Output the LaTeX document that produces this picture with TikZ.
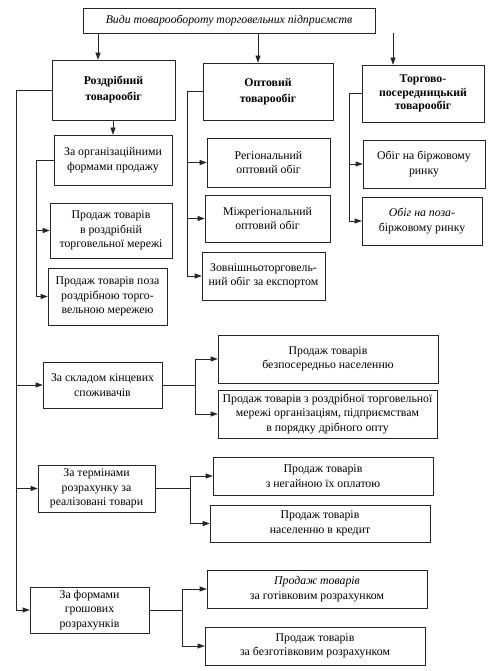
\documentclass[tikz,border=0pt]{standalone}
\usepackage{fontspec}
\setmainfont{Liberation Serif}
\usetikzlibrary{arrows.meta}

\begin{document}
\begin{tikzpicture}[x=1pt, y=-1pt, line width=0.6pt, draw=black!85, >={Triangle[length=7pt,width=5pt]},
  main node/.style={draw, align=center, inner sep=1pt, font=\fontsize{11.8}{14.5}\selectfont},
  head node/.style={main node, font=\fontsize{11.8}{16}\selectfont\bfseries},
  sized/.style 2 args={minimum width=#1pt, minimum height=#2pt}]
\useasboundingbox (0,0) rectangle (491,671);
\node[main node, sized={292}{25}] (top) at (229,20.5) {\itshape Види товарообороту торговельних підприємств};
\node[head node, sized={123}{60}] (r1) at (113.5,90) {Роздрібний\\товарообіг};
\node[head node, sized={130}{57}] (r2) at (268,91.5) {Оптовий\\товарообіг};
\node[head node, sized={122}{57}, font=\fontsize{11.8}{13.5}\selectfont\bfseries] (r3) at (423,93.5) {Торгово-\\посередницький\\товарообіг};
% retail
\node[main node, sized={118}{50}] (o1) at (113,160) {За організаційними\\формами продажу};
\node[main node, sized={122}{55}] (o2) at (111,230.5) {Продаж товарів\\в роздрібній\\торговельної мережі};
\node[main node, sized={119}{57}] (o3) at (107.5,296.5) {Продаж товарів поза\\роздрібною торго-\\вельною мережею};
% wholesale
\node[main node, sized={123}{49}] (p1) at (268.5,162.5) {Регіональний\\оптовий обіг};
\node[main node, sized={125}{47}] (p2) at (267.5,218.5) {Міжрегіональний\\оптовий обіг};
\node[main node, sized={123}{48}] (p3) at (263.5,276) {Зовнішньоторговель-\\ний обіг за експортом};
% intermediary
\node[main node, sized={122}{48}] (q1) at (424,164) {Обіг на біржовому\\ринку};
\node[main node, sized={120}{48}] (q2) at (422,221) {\textit{Обіг на поза-}\\біржовому ринку};
% lower groups
\node[main node, sized={119}{46}] (s) at (102.5,385) {За складом кінцевих\\споживачів};
\node[main node, sized={220}{48}] (s1) at (328,359) {Продаж товарів\\безпосередньо населенню};
\node[main node, sized={219}{48}] (s2) at (327.5,414) {Продаж товарів з роздрібної торговельної\\мережі організаціям, підприємствам\\в порядку дрібного опту};
\node[main node, sized={117}{47}] (t) at (96.5,488.5) {За термінами\\розрахунку за\\реалізовані товари};
\node[main node, sized={220}{38}] (t1) at (323,476) {Продаж товарів\\з негайною їх оплатою};
\node[main node, sized={220}{37}] (t2) at (320,523.5) {Продаж товарів\\населенню в кредит};
\node[main node, sized={119}{46}] (u) at (89.5,610) {За формами\\грошових\\розрахунків};
\node[main node, sized={220}{38}] (u1) at (317,589) {\textit{Продаж товарів}\\за готівковим розрахунком};
\node[main node, sized={220}{38}] (u2) at (315,646) {Продаж товарів\\за безготівковим розрахунком};

\coordinate (a1) at (98,0);
\coordinate (a2) at (258,0);
\coordinate (a3) at (393,0);
\coordinate (k0) at (16,0);

\draw[->] (top.south -| a1) -- (r1.north -| a1);
\draw[->] (top.south -| a2) -- (r2.north -| a2);
\draw[->] (top.south -| a3) -- (r3.north -| a3);

\draw[->] (r1.south -| o1.north) -- (o1.north);
\draw[->] (o1.west) -- ++(-17,0) |- (o2.west);
\draw[->] (o1.west) -- ++(-17,0) |- (o3.west);
\draw[->] (r2.west) -- ++(-15,0) |- (p1.west);
\draw[->] (r2.west) -- ++(-15,0) |- (p2.west);
\draw[->] (r2.west) -- ++(-15,0) |- (p3.west);
\draw[->] (r3.west) -- ++(-12,0) |- (q1.west);
\draw[->] (r3.west) -- ++(-12,0) |- (q2.west);

\draw[->] (r1.west) -| (k0 |- u.west) -- (u.west);
\draw[->] (s.west -| k0) -- (s.west);
\draw[->] (t.west -| k0) -- (t.west);

\draw[->] (s.east) -- ++(33,0) |- (s1.west);
\draw[->] (s.east) -- ++(33,0) |- (s2.west);
\draw[->] (t.east) -- ++(35,0) |- (t1.west);
\draw[->] (t.east) -- ++(35,0) |- (t2.west);
\draw[->] (u.east) -- ++(33,0) |- (u1.west);
\draw[->] (u.east) -- ++(33,0) |- (u2.west);
\end{tikzpicture}
\end{document}
